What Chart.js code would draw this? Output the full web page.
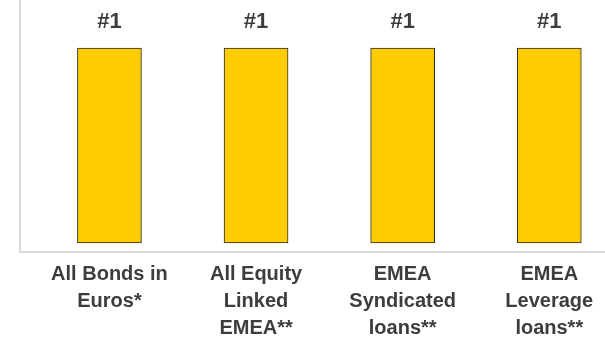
<!DOCTYPE html>
<html>
<head>
<meta charset="utf-8">
<script src="https://cdn.jsdelivr.net/npm/chart.js@4/dist/chart.umd.min.js"></script>
<style>
  html, body { margin: 0; padding: 0; background: #ffffff; overflow: hidden; }
  #wrap { width: 605px; height: 339px; position: relative; }
</style>
</head>
<body>
<div id="wrap"><canvas id="c" width="605" height="339"></canvas></div>
<script>
const categories = [
  ["All Bonds in", "Euros*"],
  ["All Equity", "Linked", "EMEA**"],
  ["EMEA", "Syndicated", "loans**"],
  ["EMEA", "Leverage", "loans**"]
];
const barValues = [100, 100, 100, 100];
const rankLabels = ["#1", "#1", "#1", "#1"];

const textColor = '#3d3d3d';
const axisColor = '#d9d9d9';

const rankPlugin = {
  id: 'rankLabels',
  afterDatasetsDraw(chart) {
    const ctx = chart.ctx;
    const meta = chart.getDatasetMeta(0);
    ctx.save();
    ctx.font = 'bold 22px "Liberation Sans", Arial, sans-serif';
    ctx.fillStyle = textColor;
    ctx.textAlign = 'center';
    ctx.textBaseline = 'middle';
    meta.data.forEach((bar, i) => {
      ctx.fillText(rankLabels[i], bar.x, bar.y - 26);
    });
    ctx.restore();
  }
};

new Chart(document.getElementById('c'), {
  type: 'bar',
  data: {
    datasets: [{
      data: barValues.map((v, i) => ({ x: i, y: v })),
      backgroundColor: '#FFCC00',
      borderColor: '#2a2a2a',
      borderWidth: 1,
      borderSkipped: false,
      barThickness: 64
    }]
  },
  options: {
    responsive: false,
    animation: false,
    layout: { padding: { left: 20, right: 0, top: 0, bottom: 0 } },
    plugins: { legend: { display: false }, tooltip: { enabled: false } },
    scales: {
      x: {
        type: 'linear',
        offset: false,
        min: -0.61,
        max: 3.38,
        afterFit(scale) { scale.height = 87; },
        grid: { display: false, drawTicks: false },
        border: { display: true, color: axisColor, width: 2 },
        ticks: {
          stepSize: 1,
          includeBounds: false,
          autoSkip: false,
          maxRotation: 0,
          padding: 9,
          color: textColor,
          font: { family: '"Liberation Sans", Arial, sans-serif', size: 20, weight: 'bold', lineHeight: 1.35 },
          callback: (v) => (Number.isInteger(v) && v >= 0 && v < categories.length) ? categories[v] : ''
        }
      },
      y: {
        min: -4.6,
        max: 124.6,
        grid: { display: false, drawTicks: false },
        border: { display: true, color: axisColor, width: 2 },
        ticks: { display: false }
      }
    }
  },
  plugins: [rankPlugin]
});
</script>
</body>
</html>
